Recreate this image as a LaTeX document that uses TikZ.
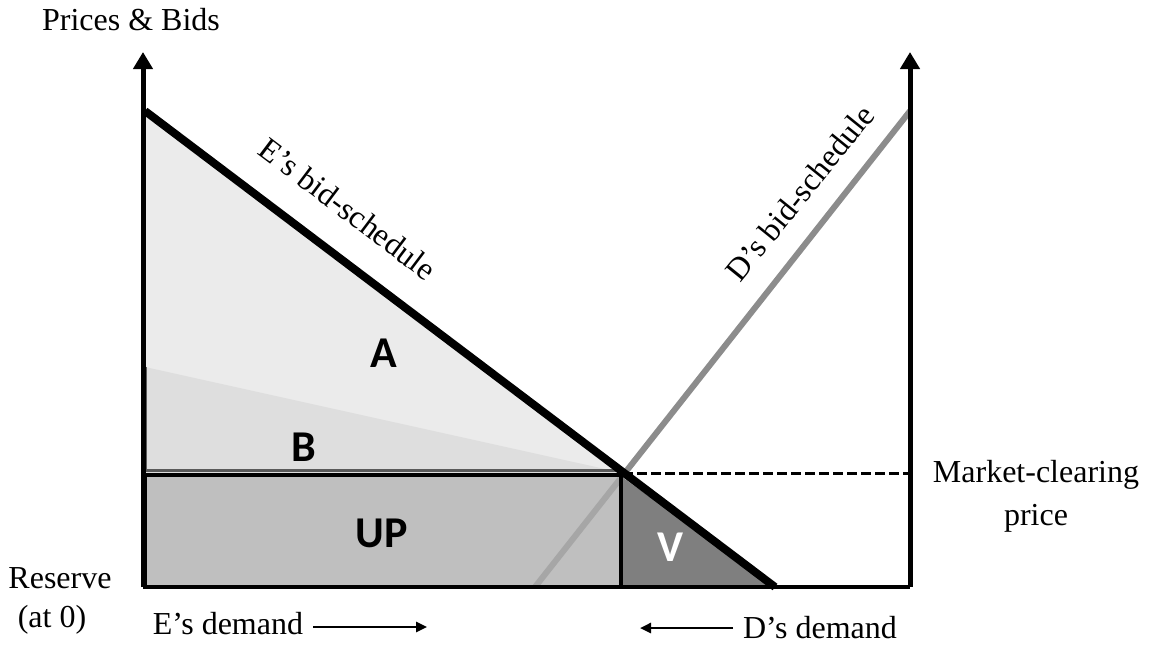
\documentclass[tikz,border=0pt]{standalone}
\usepackage{fontspec}
\setmainfont{Liberation Serif}
\newfontfamily\areafont{Carlito}
\usetikzlibrary{arrows.meta}
\definecolor{aFill}{HTML}{EBEBEB}
\definecolor{bFill}{HTML}{DEDEDE}
\definecolor{bEdge}{HTML}{5A5A5A}
\definecolor{upFill}{HTML}{BFBFBF}
\definecolor{vFill}{HTML}{7F7F7F}
\definecolor{dLine}{HTML}{8C8C8C}
\definecolor{dLineLight}{HTML}{A6A6A6}
\begin{document}
\begin{tikzpicture}[x=1pt,y=-1pt,
  every node/.style={inner sep=0pt,outer sep=0pt},
  lab/.style={font=\fontsize{32}{38}\selectfont},
  area/.style={font=\fontsize{44}{50}\selectfont\areafont\bfseries},
  axisline/.style={line width=5pt,-{Triangle[width=19pt,length=17pt]}},
  demarrow/.style={line width=2.5pt,-{Triangle[width=10pt,length=11pt]}},
  eline/.style={line width=8pt,line cap=butt},
  dline/.style={line width=6pt,dLine},
  mcline/.style={line width=3pt,dash pattern=on 10pt off 4pt}]
\useasboundingbox (0,0) rectangle (1150,645);
% key points
\coordinate (O) at (143,587);
\coordinate (LT) at (143,52);
\coordinate (R0) at (910,587);
\coordinate (RT) at (910,52);
\coordinate (Etop) at (145,111);
\coordinate (Eend) at (775,587);
\coordinate (X) at (623,473);
\coordinate (Dbot) at (535,587);
\coordinate (Dtop) at (910,111);
\coordinate (Btop) at (145,367);
\coordinate (Bbl) at (145,470);
\coordinate (Bbr) at (620,470);
\coordinate (UPtl) at (145,475);
\coordinate (UPbr) at (621,587);
\coordinate (Vt) at (622,477);
\coordinate (Vb) at (622,587);
\coordinate (MCend) at (910,473);
% areas
\fill[aFill] (Etop) -- (X) -- (145,473) -- cycle;
\fill[bFill] (Btop) -- (X) -- (145,473) -- cycle;
\draw[bEdge,line width=3pt] (Btop) -- (Bbl) -- (Bbr);
\draw[dline] (Dbot) -- (Dtop);
\fill[upFill] (UPtl) rectangle (UPbr);
\begin{scope}
  \clip (UPtl) rectangle (UPbr);
  \draw[line width=6pt,dLineLight] (Dbot) -- (Dtop);
\end{scope}
\fill[vFill] (Vt) -- (Vb) -- (Eend) -- cycle;
\draw[line width=4pt] (UPtl) rectangle (UPbr);
\draw[mcline] (X) -- (MCend);
\draw[eline] (Etop) -- (Eend);
% axes
\draw[line width=4pt] (O) -- (R0);
\draw[axisline] (O) -- (LT);
\draw[axisline] (R0) -- (RT);
% area labels
\node[area] (A) at (384,353) {A};
\node[area] (B) at (304,447) {B};
\node[area] (UP) at (382,533) {UP};
\node[area,text=white] (V) at (670,547) {V};
% text labels
\node[lab,anchor=base] (pb) at (131,30) {Prices \& Bids};
\node[lab,rotate=-37] (Es) at (348,209) {E’s bid-schedule};
\node[lab,rotate=51] (Ds) at (800,193) {D’s bid-schedule};
\node[lab,anchor=base] (mc1) at (1036,482) {Market-clearing};
\node[lab,anchor=base] (mc2) at (1036,525) {price};
\node[lab,anchor=base] (res1) at (60,588) {Reserve};
\node[lab,anchor=base] (res2) at (52,627) {(at 0)};
\node[lab,anchor=base] (ed) at (228,634) {E’s demand};
\node[lab,anchor=base] (dd) at (820,638) {D’s demand};
\coordinate (edA) at (313,627);
\coordinate (edB) at (427,627);
\coordinate (ddA) at (733,628);
\coordinate (ddB) at (640,628);
\draw[demarrow] (edA) -- (edB);
\draw[demarrow] (ddA) -- (ddB);
\end{tikzpicture}
\end{document}
